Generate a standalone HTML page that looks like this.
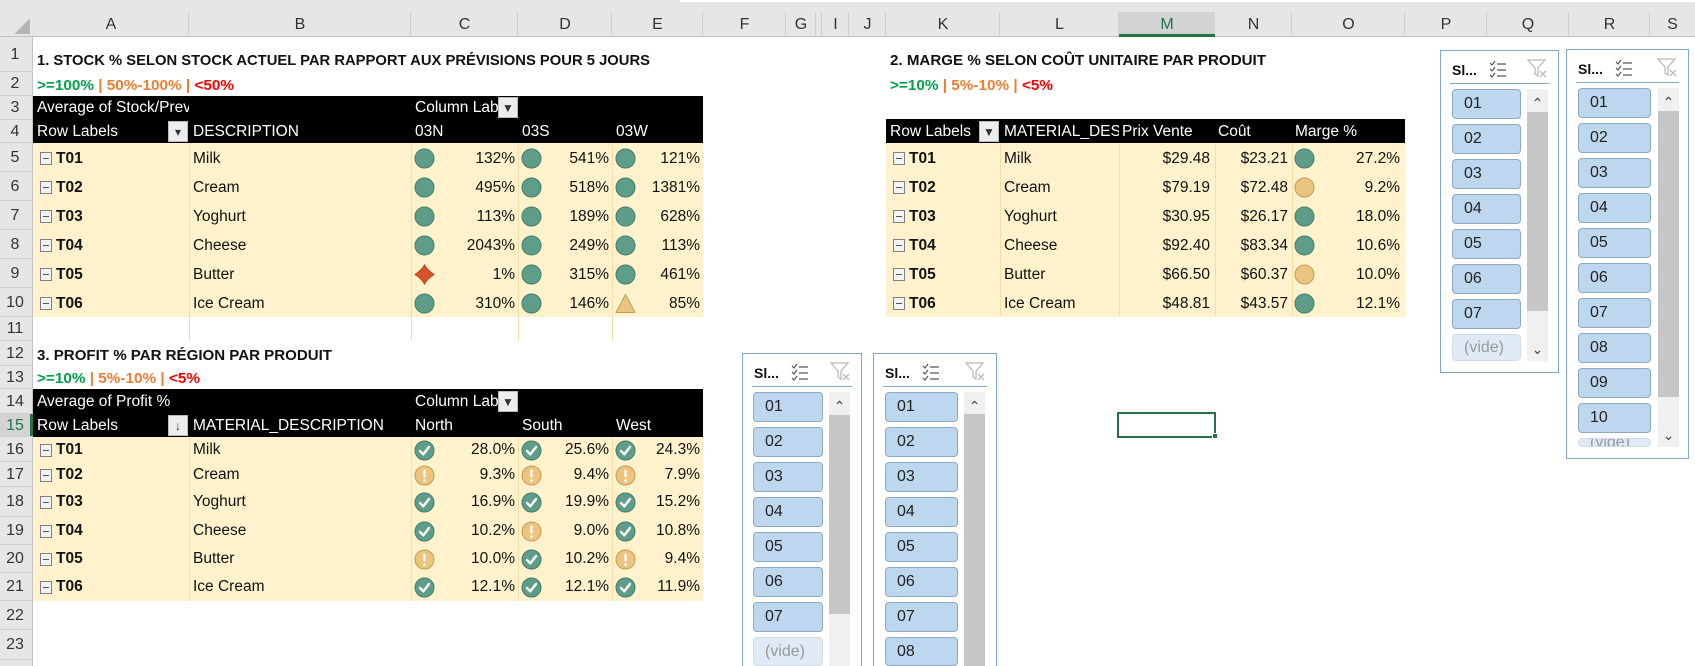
<!DOCTYPE html>
<html><head><meta charset="utf-8">
<style>
html,body{margin:0;padding:0;background:#fff;width:1695px;height:666px;overflow:hidden;}
body{position:relative;font-family:"Liberation Sans",sans-serif;}
#sheet{position:absolute;left:0;top:0;width:1695px;height:666px;overflow:hidden;}
.a{position:absolute;box-sizing:border-box;}
.t{position:absolute;box-sizing:border-box;white-space:nowrap;overflow:hidden;display:flex;align-items:center;font-size:15.5px;color:#111;}
</style></head><body>
<div id="sheet"></div>
<script>
// ---------- data ----------
const t1Codes=['T01','T02','T03','T04','T05','T06'];
const t1Names=['Milk','Cream','Yoghurt','Cheese','Butter','Ice Cream'];
const t1Cols=['03N','03S','03W'];
const t1N=[132,495,113,2043,1,310];
const t1S=[541,518,189,249,315,146];
const t1W=[121,1381,628,113,461,85];
const t2Prix=[29.48,79.19,30.95,92.40,66.50,48.81];
const t2Cout=[23.21,72.48,26.17,83.34,60.37,43.57];
const t2Marge=[27.2,9.2,18.0,10.6,9.97,12.1];
const t3Cols=['North','South','West'];
const t3North=[28.0,9.3,16.9,10.2,9.97,12.1];
const t3South=[25.6,9.4,19.9,9.0,10.2,12.1];
const t3West=[24.3,7.9,15.2,10.8,9.4,11.9];
const slicerA=['01','02','03','04','05','06','07','(vide)'];
const slicerB=['01','02','03','04','05','06','07','08','09','10','(vide)'];

// ---------- layout ----------
const colX={A:33,B:189,C:411,D:518,E:612,F:703,G:786,H:816,I:822,J:849,K:886,L:1000,M:1119,N:1215,O:1292,P:1405,Q:1487,R:1569,S:1650,T:1695};
const rowY=[0,37,72,96,120,143,172,201,230,259,288,317,341,366,389,414,437,462,487,517,545,573,601,630,660,666];
const B=document.getElementById('sheet');
function box(name,x,y,w,h,css,inter){
  const el=document.createElement('div');
  el.className='a';
  el.style.cssText+=`left:${x}px;top:${y}px;width:${w}px;height:${h}px;`+(css||'');
  
  
  B.appendChild(el);return el;
}
function txt(name,x,y,w,h,s,css,inter){
  const el=document.createElement('div');
  el.className='t';
  el.style.cssText+=`left:${x}px;top:${y}px;width:${w}px;height:${h}px;`+(css||'');
  el.textContent=s;
  
  
  B.appendChild(el);return el;
}
function cx(c){return colX[c];}
function cw(c){const k=Object.keys(colX);return colX[k[k.indexOf(c)+1]]-colX[c];}

// ---------- headers ----------
box('column-header-bar',0,0,1695,37,'background:#e6e6e6;border-bottom:1px solid #c3c3c3;');
box('top-strip',680,0,1015,2,'background:#fff;');
box('row-header-bar',0,37,33,629,'background:#e6e6e6;border-right:1px solid #c3c3c3;');
box('select-all-corner',14,18,16,16,'background:linear-gradient(135deg,transparent 50%,#b5b5b5 50%);');
Object.keys(colX).forEach(c=>{
  if(c==='T')return;
  const x=cx(c),w=cw(c);
  const sel=c==='M';
  if(c!=='S') box('col-sep-'+c,x+w-1,12,1,25,'background:#cfcfcf;');
  if(sel) box('col-header-selected',x,12,w,25,'background:#d3d3d3;border-bottom:3px solid #217346;');
  if(c!=='H') txt('col-header-'+c,x,12,w,25,c,'justify-content:center;font-size:16px;color:'+(sel?'#217346':'#333')+';',true);
});
for(let r=1;r<=23;r++){
  const y=rowY[r],h=rowY[r+1]-y;
  const sel=r===15;
  if(sel) box('row-header-selected',0,y,33,h,'background:#d3d3d3;border-right:3px solid #217346;');
  box('row-sep-'+r,0,y+h-1,33,1,'background:#d0d0d0;');
  txt('row-header-'+r,0,y,30,h,String(r),'justify-content:center;font-size:16px;color:'+(sel?'#217346':'#333')+';',true);
}

// ---------- helpers for tables ----------
function fitText(el,target){const s=document.createElement('span');s.innerHTML=el.innerHTML;el.textContent='';el.appendChild(s);el.style.overflow='visible';const w=s.getBoundingClientRect().width;s.style.display='inline-block';s.style.transformOrigin='left center';s.style.transform=`scaleX(${target/w})`;}
function minusBox(name,x,y){
  const b=box(name,x,y,12,13,'border:1px solid #808080;background:#f3f3f3;',true);
  const l=document.createElement('div');l.style.cssText='position:absolute;left:2px;right:2px;top:5px;height:1px;background:#555;';b.appendChild(l);
}
function filterBtn(name,x,y,w,h,glyph){
  const b=box(name,x,y,w,h,'background:#ededed;border:1px solid #bbb;color:#333;font-size:12px;display:flex;align-items:center;justify-content:center;',true);
  b.textContent=glyph;
}
function svgIcon(name,x,y,inner){
  const el=box(name,x,y,21,21,'');
  el.innerHTML=`<svg width="21" height="21" viewBox="0 0 21 21">${inner}</svg>`;
}
const GREEN='#5e9e89',GREENB='#437d6a',AMB='#ebc47f',AMBB='#c59c55',RED='#d6532c';
function circle(name,x,y,fill,stroke){svgIcon(name,x,y,`<circle cx="10.5" cy="10.5" r="9.5" fill="${fill}" stroke="${stroke}" stroke-width="1"/>`);}
function stockIcon(name,x,y,v){
  if(v>=100) circle(name,x,y,GREEN,GREENB);
  else if(v>=50) svgIcon(name,x,y,`<path d="M10.5 1.5 L20 19.5 L1 19.5 Z" fill="${AMB}" stroke="${AMBB}" stroke-width="1" stroke-linejoin="round"/>`);
  else svgIcon(name,x,y,`<path d="M10.5 1 Q13 6 20 10.5 Q13 15 10.5 20 Q8 15 1 10.5 Q8 6 10.5 1Z" fill="${RED}" stroke="#b8401d" stroke-width="1"/>`);
}
function profitIcon(name,x,y,v){
  if(v>=10) svgIcon(name,x,y,`<circle cx="10.5" cy="10.5" r="9.5" fill="${GREEN}" stroke="${GREENB}"/><path d="M6 11 L9.3 14.3 L15 7" fill="none" stroke="#fff" stroke-width="2.4" stroke-linecap="round" stroke-linejoin="round"/>`);
  else svgIcon(name,x,y,`<circle cx="10.5" cy="10.5" r="9.5" fill="${AMB}" stroke="${AMBB}"/><rect x="9.4" y="4.5" width="2.2" height="8" rx="1" fill="#fff"/><circle cx="10.5" cy="15.6" r="1.3" fill="#fff"/>`);
}
function legend(name,x,y,h,parts,target){
  const el=txt(name,x,y,400,h,'','font-weight:bold;font-size:15px;align-items:flex-end;padding-bottom:2px;');
  el.innerHTML=`<span style="color:#00a04a">${parts[0]}</span><span style="color:#ed7d31">&nbsp;|&nbsp;${parts[1]}&nbsp;</span><span style="color:#ff0000"><span style="color:#ed7d31">|</span>&nbsp;${parts[2]}</span>`;
  fitText(el,target);
}

// ---------- table 1 ----------
let el=txt('title-stock',37,rowY[1],700,rowY[2]-rowY[1],'1. STOCK % SELON STOCK ACTUEL PAR RAPPORT AUX PRÉVISIONS POUR 5 JOURS','font-weight:bold;font-size:15px;align-items:flex-end;padding-bottom:3px;');
fitText(el,613);
legend('legend-stock',37,rowY[2],rowY[3]-rowY[2],['&gt;=100%','50%-100%','&lt;50%'],197);
box('t1-header',cx('A'),rowY[3],colX.F-colX.A,rowY[5]-rowY[3],'background:#000;');
txt('t1-avg-label',cx('A')+4,rowY[3],cw('A')-4,24,'Average of Stock/Prevision','color:#fff;');
txt('t1-column-labels',cx('C')+4,rowY[3],90,24,'Column Labels','color:#fff;');
filterBtn('t1-column-filter',498,rowY[3]+1,20,21,'▼');
txt('t1-row-labels',cx('A')+4,rowY[4],130,23,'Row Labels','color:#fff;');
filterBtn('t1-row-filter',168,rowY[4]+1,20,21,'▾');
txt('t1-desc-header',cx('B')+4,rowY[4],200,23,'DESCRIPTION','color:#fff;');
['C','D','E'].forEach((c,i)=>txt('t1-col-'+t1Cols[i],cx(c)+4,rowY[4],80,23,t1Cols[i],'color:#fff;'));
box('t1-body',cx('A'),rowY[5],colX.F-colX.A,rowY[11]-rowY[5],'background:#fff2cc;');
['B','C','D','E'].forEach(c=>box('t1-vline-'+c,cx(c),rowY[5],1,rowY[12]-rowY[5],'background:#f3dfa7;'));
const t1Series=[t1N,t1S,t1W];
for(let i=0;i<6;i++){
  const y=rowY[5+i],h=rowY[6+i]-y;
  minusBox('t1-collapse-'+t1Codes[i],40,y+9);
  txt('t1-code-'+t1Codes[i],56,y,100,h,t1Codes[i],'font-weight:bold;padding-top:3px;');
  txt('t1-name-'+t1Codes[i],cx('B')+4,y,200,h,t1Names[i],'padding-top:3px;');
  ['C','D','E'].forEach((c,j)=>{
    const v=t1Series[j][i];
    stockIcon('t1-icon-'+t1Codes[i]+'-'+t1Cols[j],cx(c)+3,y+5,v);
    txt('t1-value-'+t1Codes[i]+'-'+t1Cols[j],cx(c),y,cw(c)-3,h,v+'%','justify-content:flex-end;padding-top:3px;');
  });
}

// ---------- table 2 ----------
el=txt('title-marge',890,rowY[1],600,rowY[2]-rowY[1],'2. MARGE % SELON COÛT UNITAIRE PAR PRODUIT','font-weight:bold;font-size:15px;align-items:flex-end;padding-bottom:3px;');
fitText(el,376);
legend('legend-marge',890,rowY[2],rowY[3]-rowY[2],['&gt;=10%','5%-10%','&lt;5%'],163);
box('t2-header',cx('K'),rowY[4]-1,colX.P-colX.K,rowY[5]-rowY[4]+1,'background:#000;');
txt('t2-row-labels',cx('K')+4,rowY[4],100,23,'Row Labels','color:#fff;');
filterBtn('t2-row-filter',979,rowY[4]+1,20,21,'▼');
txt('t2-material-header',cx('L')+4,rowY[4],cw('L')-4,23,'MATERIAL_DESCRIPTION','color:#fff;');
txt('t2-prix-header',cx('M')+3,rowY[4],95,23,'Prix Vente','color:#fff;');
txt('t2-cout-header',cx('N')+3,rowY[4],75,23,'Coût','color:#fff;');
txt('t2-marge-header',cx('O')+3,rowY[4],100,23,'Marge %','color:#fff;');
box('t2-body',cx('K'),rowY[5],colX.P-colX.K,rowY[11]-rowY[5],'background:#fff2cc;');
['L','M','N','O'].forEach(c=>box('t2-vline-'+c,cx(c),rowY[5],1,rowY[11]-rowY[5],'background:#f3dfa7;'));
for(let i=0;i<6;i++){
  const y=rowY[5+i],h=rowY[6+i]-y;
  minusBox('t2-collapse-'+t1Codes[i],893,y+9);
  txt('t2-code-'+t1Codes[i],909,y,90,h,t1Codes[i],'font-weight:bold;padding-top:3px;');
  txt('t2-name-'+t1Codes[i],cx('L')+4,y,115,h,t1Names[i],'padding-top:3px;');
  txt('t2-prix-'+t1Codes[i],cx('M'),y,cw('M')-5,h,'$'+t2Prix[i].toFixed(2),'justify-content:flex-end;padding-top:3px;');
  txt('t2-cout-'+t1Codes[i],cx('N'),y,cw('N')-4,h,'$'+t2Cout[i].toFixed(2),'justify-content:flex-end;padding-top:3px;');
  const m=t2Marge[i];
  if(m>=10) circle('t2-icon-'+t1Codes[i],cx('O')+2,y+5,GREEN,GREENB); else circle('t2-icon-'+t1Codes[i],cx('O')+2,y+5,AMB,AMBB);
  txt('t2-marge-'+t1Codes[i],cx('O'),y,cw('O')-5,h,m.toFixed(1)+'%','justify-content:flex-end;padding-top:3px;');
}

// ---------- table 3 ----------
el=txt('title-profit',37,rowY[12],500,rowY[13]-rowY[12],'3. PROFIT % PAR RÉGION PAR PRODUIT','font-weight:bold;font-size:15px;align-items:flex-end;padding-bottom:2px;');
fitText(el,295);
legend('legend-profit',37,rowY[13],rowY[14]-rowY[13],['&gt;=10%','5%-10%','&lt;5%'],163);
box('t3-header',cx('A'),rowY[14],colX.F-colX.A,rowY[16]-rowY[14],'background:#000;');
txt('t3-avg-label',cx('A')+4,rowY[14],200,25,'Average of Profit %','color:#fff;');
txt('t3-column-labels',cx('C')+4,rowY[14],90,25,'Column Labels','color:#fff;');
filterBtn('t3-column-filter',498,rowY[14]+2,20,21,'▼');
txt('t3-row-labels',cx('A')+4,rowY[15],130,23,'Row Labels','color:#fff;');
filterBtn('t3-row-sort',168,rowY[15]+1,20,21,'↓');
txt('t3-material-header',cx('B')+4,rowY[15],220,23,'MATERIAL_DESCRIPTION','color:#fff;');
['C','D','E'].forEach((c,i)=>txt('t3-col-'+t3Cols[i],cx(c)+4,rowY[15],85,23,t3Cols[i],'color:#fff;'));
box('t3-body',cx('A'),rowY[16],colX.F-colX.A,rowY[22]-rowY[16],'background:#fff2cc;');
['B','C','D','E'].forEach(c=>box('t3-vline-'+c,cx(c),rowY[16],1,rowY[22]-rowY[16],'background:#f3dfa7;'));
const t3Series=[t3North,t3South,t3West];
for(let i=0;i<6;i++){
  const y=rowY[16+i],h=rowY[17+i]-y;
  const mid=y+h/2;
  minusBox('t3-collapse-'+t1Codes[i],40,mid-6);
  txt('t3-code-'+t1Codes[i],56,y,100,h,t1Codes[i],'font-weight:bold;');
  txt('t3-name-'+t1Codes[i],cx('B')+4,y,200,h,t1Names[i],'');
  ['C','D','E'].forEach((c,j)=>{
    const v=t3Series[j][i];
    profitIcon('t3-icon-'+t1Codes[i]+'-'+t3Cols[j],cx(c)+3,mid-10,v);
    txt('t3-value-'+t1Codes[i]+'-'+t3Cols[j],cx(c),y,cw(c)-3,h,v.toFixed(1)+'%','justify-content:flex-end;');
  });
}

// ---------- selected cell ----------
box('selected-cell',1117,412,99,26,'border:2px solid #217346;',true);
box('fill-handle',1212,433,6,6,'background:#217346;border:1px solid #fff;',true);

// ---------- slicers ----------
function slicer(id,x,y,w,h,items,itemX,itemW,sbX,thumbTop,thumbBot,open){
  box(id,x,y,w,h,'border:1px solid #7ea6cf;background:#fff;overflow:hidden;'+(open?'border-bottom:none;':''));
  txt(id+'-title',x+12,y+8,40,24,'Sl...','font-weight:bold;font-size:14px;');
  const ms=box(id+'-multiselect-icon',x+48,y+9,20,20,'',true);
  ms.innerHTML='<svg width="20" height="20"><g stroke="#555" stroke-width="1.2" fill="none"><path d="M2 4 L4 6 L7 2"/><path d="M2 10 L4 12 L7 8"/><path d="M2 16 L4 18 L7 14"/><path d="M9 5 H18 M9 11 H18 M9 17 H18"/></g></svg>';
  const cf=box(id+'-clear-filter-icon',x+w-33,y+7,22,22,'',true);
  cf.innerHTML='<svg width="22" height="22"><path d="M2 3 H19 L12 11 V19 L9 17 V11 Z" fill="none" stroke="#bbb" stroke-width="1.3"/><path d="M14 14 L20 20 M20 14 L14 20" stroke="#bbb" stroke-width="1.3"/></svg>';
  box(id+'-header-line',x+10,y+33,w-20,1,'background:#7ea6cf;');
  const listTop=y+39;
  const listBot=open?y+h:y+h-12;
  box(id+'-scroll-track',sbX,listTop,21,listBot-listTop,'background:#f0f0f0;',true);
  box(id+'-scroll-thumb',sbX,thumbTop,21,Math.min(thumbBot,listBot)-thumbTop,'background:#c6c6c6;',true);
  txt(id+'-scroll-up',sbX,listTop,21,22,'⌃','justify-content:center;font-size:14px;color:#444;padding-top:6px;',true);
  items.forEach((it,k)=>{
    const iy=listTop+k*35;
    if(iy>=listBot) return;
    const vide=it==='(vide)';
    const hh=Math.min(30,listBot-iy);
    txt(id+'-item-'+(vide?'vide':it),itemX,iy,itemW,hh,it,'padding-left:11px;font-size:16px;border-radius:4px;border:1px solid '+(vide?'#d3dde8':'#8fa9c2')+';background:'+(vide?'#dfeaf5':'#bdd7ee')+';color:'+(vide?'#999':'#222')+';',true);
  });
}
slicer('slicer-region-top',1440,50,119,323,slicerA,1452,69,1527,112,311,false);
txt('slicer-region-top-scroll-down',1527,338,21,22,'⌄','justify-content:center;font-size:14px;color:#444;',true);
slicer('slicer-code-top',1566,49,123,410,slicerB,1578,73,1658,111,397,false);
txt('slicer-code-top-scroll-down',1658,424,21,22,'⌄','justify-content:center;font-size:14px;color:#444;',true);
slicer('slicer-region-bottom',742,353,120,313,slicerA,753,70,829,415,614,true);
slicer('slicer-code-bottom',873,353,124,313,slicerB,885,73,964,414,700,true);
</script>
</body></html>
